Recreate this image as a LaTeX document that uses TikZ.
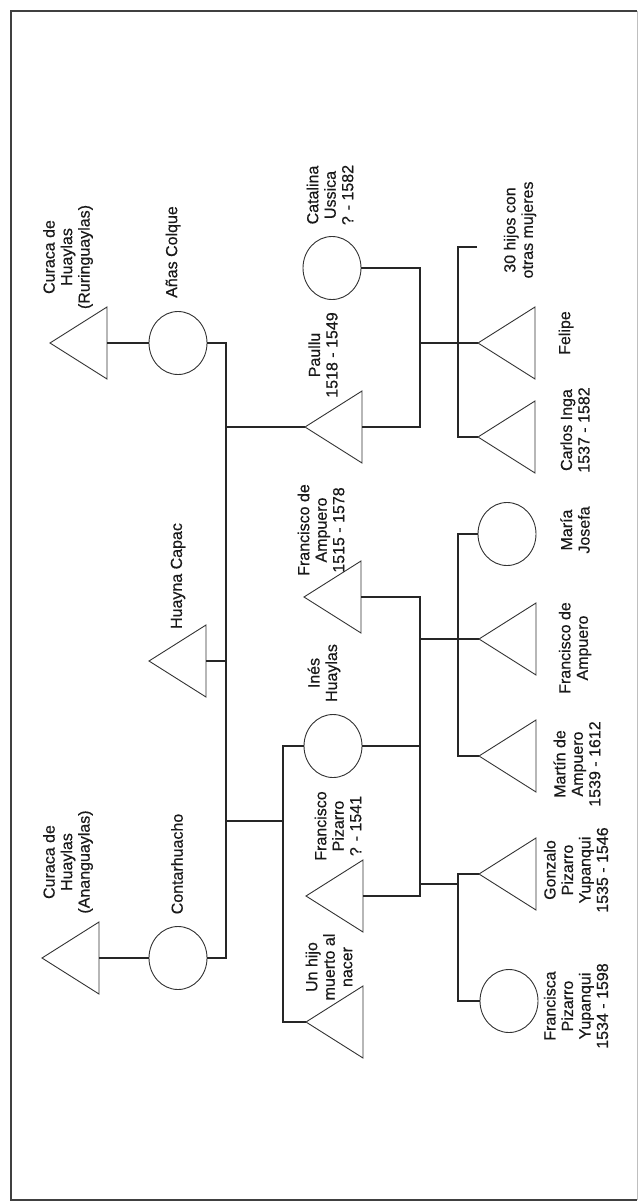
\documentclass[tikz,border=0pt]{standalone}
\usepackage{fontspec}
\setmainfont{Liberation Sans}
\newfontfamily\lblfont[FakeBold=0.5]{Liberation Sans}
\usetikzlibrary{shapes.geometric}
\newcommand{\maletri}[3]{%
  \coordinate (#1-a) at (#2,#3);
  \coordinate (#1-b) at (#2+57,#3);
  \draw[shp] (#1-a) -- (#2+57,#3+36) -- (#2+57,#3-36) -- cycle;}
\begin{document}
\begin{tikzpicture}[x=1pt,y=1pt,
  conn/.style={line width=1.3pt, draw=black!85},
  shp/.style={line width=0.9pt, draw=black!80},
  fem/.style={ellipse, shp, minimum width=58pt, minimum height=63pt, inner sep=0pt},
  lbl/.style={rotate=90, align=center, inner sep=0pt, font=\lblfont\fontsize{16}{17.5}\selectfont, text=black!90}]
\useasboundingbox (0,0) rectangle (639,-1202);
% frame
\draw[line width=1.3pt, black!75] (637,-11) -- (11,-11) -- (11,-1200) -- (637,-1200);
\draw[line width=0.8pt, black!25] (637,-11) -- (637,-1200);
% column coordinates
\coordinate (c1) at (226,0);
\coordinate (c2) at (283,0);
\coordinate (c3) at (420,0);
\coordinate (c4) at (458,0);
% generation 1
\maletri{curR}{50}{-343}
\maletri{curA}{42}{-958}
\maletri{huayna}{149}{-661}
\node[fem] (anas) at (178,-343) {};
\node[fem] (contar) at (178,-958) {};
% generation 2
\maletri{paullu}{305}{-427}
\maletri{ampF}{304}{-597}
\maletri{pizarro}{306}{-896}
\maletri{hijo}{306}{-1022}
\node[fem] (catalina) at (332,-268) {};
\node[fem] (ines) at (333,-746) {};
% generation 3
\maletri{felipe}{478}{-343}
\maletri{carlos}{478}{-437}
\maletri{ampS}{479}{-639}
\maletri{martin}{479}{-756}
\maletri{gonzalo}{479}{-874}
\node[fem] (maria) at (507,-534) {};
\node[fem] (francisca) at (509,-1001) {};
% labels
\node[lbl] (curR-l) at (68,-257) {Curaca de\\Huaylas\\(Ruringuaylas)};
\node[lbl] (anas-l) at (173,-252) {Añas Colque};
\node[lbl] (huayna-l) at (178,-576) {Huayna Capac};
\node[lbl] (curA-l) at (68,-862) {Curaca de\\Huaylas\\(Ananguaylas)};
\node[lbl] (contar-l) at (177,-864) {Contarhuacho};
\node[lbl] (catalina-l) at (330,-195) {Catalina\\Ussica\\? - 1582};
\node[lbl] (paullu-l) at (323,-355) {Paullu\\1518 - 1549};
\node[lbl] (ampF-l) at (321,-530) {Francisco de\\Ampuero\\1515 - 1578};
\node[lbl] (ines-l) at (324,-673) {Inés\\Huaylas};
\node[lbl] (pizarro-l) at (338,-826) {Francisco\\Pizarro\\? - 1541};
\node[lbl] (hijo-l) at (329,-967) {Un hijo\\muerto al\\nacer};
\node[lbl] (h30-l) at (520,-230) {30 hijos con\\otras mujeres};
\node[lbl] (felipe-l) at (566,-333) {Felipe};
\node[lbl] (carlos-l) at (575,-430) {Carlos Inga\\1537 - 1582};
\node[lbl] (maria-l) at (575,-530) {María\\Josefa};
\node[lbl] (ampS-l) at (575,-648) {Francisco de\\Ampuero};
\node[lbl] (martin-l) at (577,-764) {Martín de\\Ampuero\\1539 - 1612};
\node[lbl] (gonzalo-l) at (576,-870) {Gonzalo\\Pizarro\\Yupanqui\\1535 - 1546};
\node[lbl] (francisca-l) at (576,-1006) {Francisca\\Pizarro\\Yupanqui\\1534 - 1598};
% connectors
\draw[conn] (curR-b) -- (anas.west);
\draw[conn] (anas.east) -- (anas.east -| c1) -- (contar.east -| c1) -- (contar.east);
\draw[conn] (curA-b) -- (contar.west);
\draw[conn] (huayna-b) -- (huayna-b -| c1);
\draw[conn] (paullu-a -| c1) -- (paullu-a);
\coordinate (k1a) at (226,-821);
\coordinate (k1b) at (283,-821);
\draw[conn] (k1a) -- (k1b);
\draw[conn] (ines.west) -- (ines.west -| c2) -- (hijo-a -| c2) -- (hijo-a);
\draw[conn] (catalina.east) -- (catalina.east -| c3) -- (paullu-b -| c3) -- (paullu-b);
\draw[conn] (felipe-a -| c3) -- (felipe-a);
\coordinate (top30) at (477,-247);
\draw[conn] (top30) -- (top30 -| c4) -- (carlos-a -| c4) -- (carlos-a);
\draw[conn] (ampF-b) -- (ampF-b -| c3) -- (pizarro-b -| c3) -- (pizarro-b);
\draw[conn] (ines.east) -- (ines.east -| c3);
\draw[conn] (ampS-a -| c3) -- (ampS-a);
\draw[conn] (maria.west) -- (maria.west -| c4) -- (martin-a -| c4) -- (martin-a);
\coordinate (k2) at (420,-884);
\draw[conn] (k2) -- (k2 -| c4);
\draw[conn] (gonzalo-a) -- (gonzalo-a -| c4) -- (francisca.west -| c4) -- (francisca.west);
\end{tikzpicture}
\end{document}
